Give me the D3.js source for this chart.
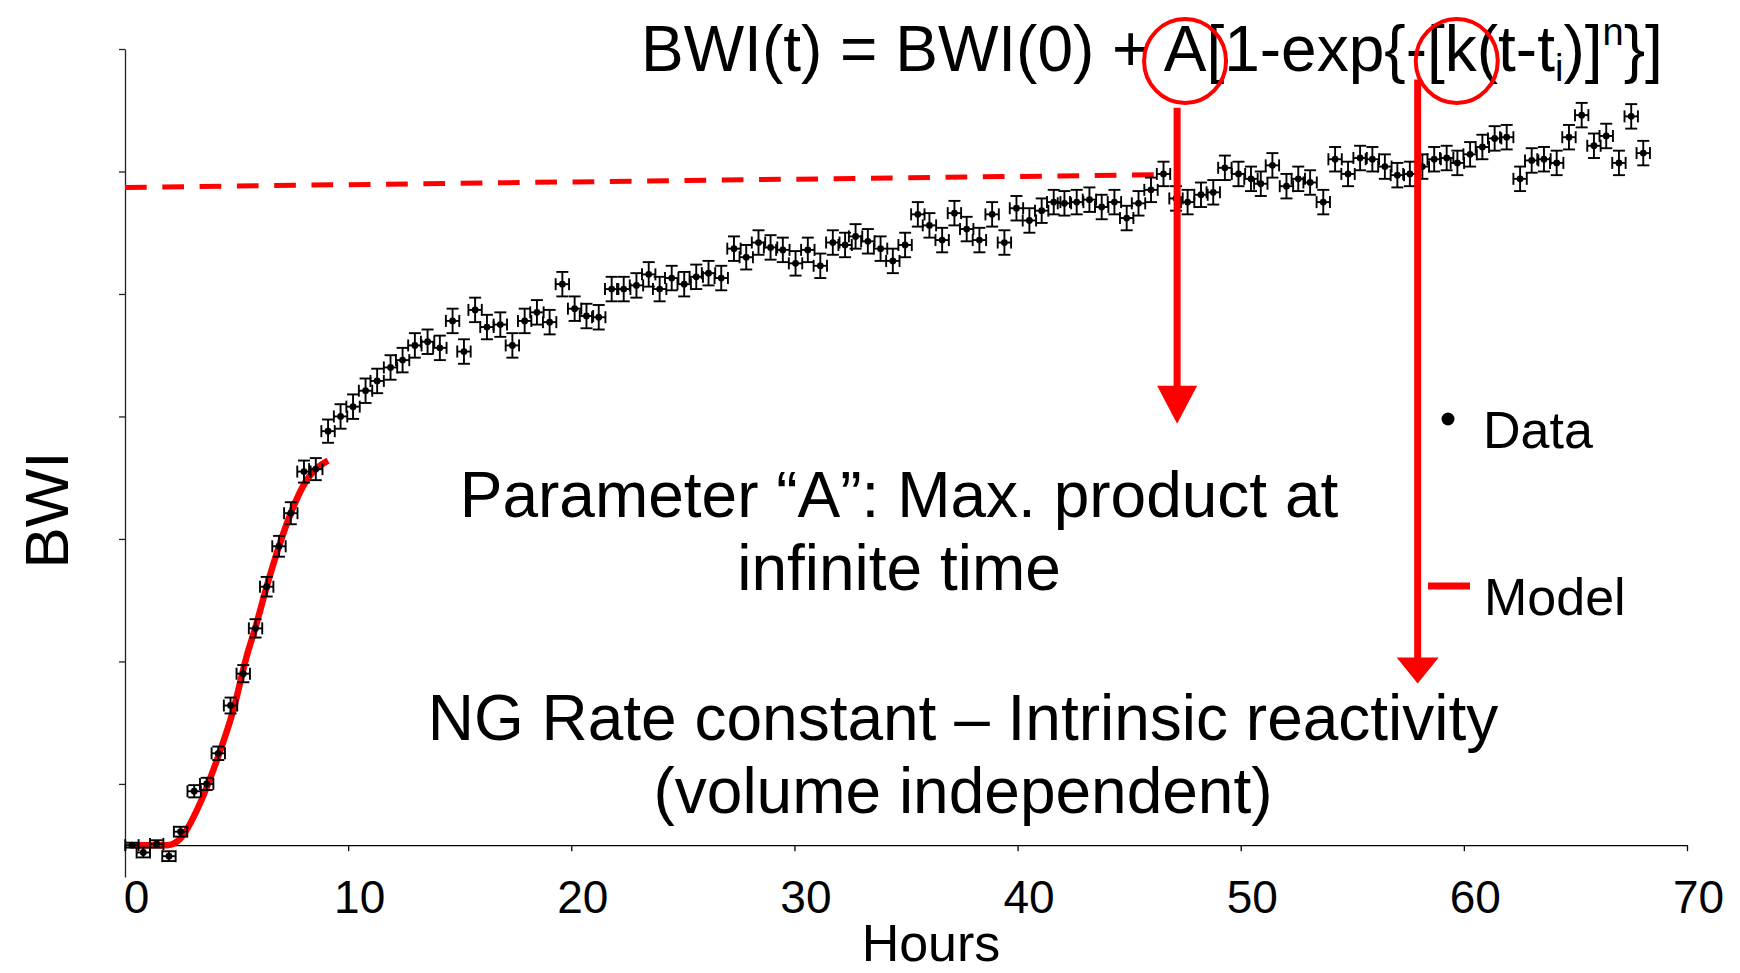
<!DOCTYPE html>
<html>
<head>
<meta charset="utf-8">
<script src="https://cdn.jsdelivr.net/npm/d3@7"></script>
<style>
  body { margin: 0; background: #fff; }
  svg { display: block; font-family: "Liberation Sans", Arial, sans-serif; }
  text { white-space: pre; }
</style>
</head>
<body>
<svg id="chart"></svg>
<script>
// data (BWI in arbitrary units, x axis crosses at 0)
var hours = [
  0.31, 0.82, 1.42, 1.97, 2.49, 3.10, 3.66, 4.18, 4.73, 5.30,
  5.85, 6.35, 6.90, 7.43, 8.02, 8.55, 9.10, 9.66, 10.22, 10.78,
  11.30, 11.90, 12.44, 12.99, 13.56, 14.11, 14.68, 15.19, 15.69, 16.22,
  16.82, 17.36, 17.91, 18.46, 19.03, 19.60, 20.15, 20.68, 21.23, 21.81,
  22.35, 22.92, 23.47, 23.96, 24.50, 25.06, 25.60, 26.15, 26.72, 27.29,
  27.84, 28.39, 28.93, 29.48, 30.05, 30.60, 31.16, 31.72, 32.27, 32.74,
  33.29, 33.86, 34.41, 34.96, 35.53, 36.05, 36.62, 37.17, 37.72, 38.29,
  38.86, 39.41, 39.95, 40.53, 41.08, 41.62, 42.10, 42.65, 43.22, 43.77,
  44.34, 44.89, 45.42, 45.98, 46.54, 47.10, 47.62, 48.22, 48.77, 49.29,
  49.90, 50.46, 50.90, 51.42, 52.05, 52.58, 53.11, 53.70, 54.23, 54.81,
  55.35, 55.90, 56.46, 57.02, 57.58, 58.14, 58.67, 59.23, 59.71, 60.28,
  60.83, 61.38, 61.92, 62.52, 63.04, 63.59, 64.16, 64.71, 65.28, 65.83,
  66.38, 66.95, 67.50, 68.04
];
var bwi = [
  0.00, -0.06, 0.01, -0.09, 0.11, 0.44, 0.50, 0.75, 1.14, 1.40,
  1.77, 2.11, 2.44, 2.71, 3.05, 3.07, 3.38, 3.50, 3.58, 3.71,
  3.79, 3.90, 3.96, 4.08, 4.11, 4.06, 4.28, 4.03, 4.37, 4.23,
  4.25, 4.08, 4.28, 4.35, 4.27, 4.58, 4.38, 4.32, 4.31, 4.54,
  4.54, 4.57, 4.66, 4.54, 4.63, 4.58, 4.64, 4.67, 4.63, 4.87,
  4.80, 4.92, 4.88, 4.86, 4.75, 4.86, 4.73, 4.92, 4.90, 4.97,
  4.93, 4.87, 4.77, 4.90, 5.15, 5.06, 4.94, 5.16, 5.03, 4.94,
  5.15, 4.92, 5.20, 5.10, 5.18, 5.25, 5.24, 5.25, 5.27, 5.21,
  5.25, 5.12, 5.24, 5.35, 5.48, 5.28, 5.25, 5.31, 5.33, 5.53,
  5.48, 5.44, 5.40, 5.55, 5.38, 5.44, 5.41, 5.25, 5.60, 5.48,
  5.61, 5.60, 5.54, 5.47, 5.48, 5.54, 5.60, 5.61, 5.57, 5.64,
  5.70, 5.77, 5.78, 5.44, 5.59, 5.60, 5.57, 5.78, 5.96, 5.71,
  5.79, 5.57, 5.95, 5.65
];
var hoursErr = 0.3;
var bwiErrEarly = [0.02, 0.04, 0.03, 0.04, 0.04, 0.05, 0.05, 0.055, 0.065, 0.07, 0.075, 0.08, 0.085, 0.09, 0.09, 0.09, 0.095];
var bwiErrLate = 0.1;

var modelHours = [0.37, 1.87, 2.46, 3.36, 4.11, 4.85, 5.45, 5.85, 6.35, 6.90, 7.43, 8.14, 8.55, 9.10];
var modelBwi   = [0.00, 0.00, 0.05, 0.34, 0.69, 1.10, 1.54, 1.78, 2.11, 2.44, 2.71, 2.98, 3.07, 3.14];

var plateauHours = [0, 46.87];
var plateauBwi = [5.37, 5.475];

// arrows: [hour, top bwi, tip bwi]
var arrowA = [47.15, 6.02, 3.44];
var arrowK = [57.93, 6.25, 1.32];

var xTicks = [0, 10, 20, 30, 40, 50, 60, 70];
var yTicks = [0.5, 1.5, 2.5, 3.5, 4.5, 5.5, 6.5];

var W = 1740, H = 973;
var RED = '#ff0000';

var svg = d3.select('#chart').attr('width', W).attr('height', H);

var x = d3.scaleLinear().domain([0, 70]).range([125, 1687]);
var y = d3.scaleLinear().domain([-0.26, 6.5]).range([877, 49]);

// axes
var yAxis = svg.append('g').attr('transform', 'translate(125,0)')
  .call(d3.axisLeft(y).tickValues(yTicks).tickFormat('').tickSize(6).tickSizeOuter(0));
yAxis.selectAll('path,line').attr('stroke', '#222').attr('stroke-width', 1.3);

var xAxis = svg.append('g').attr('transform', 'translate(0,' + y(0) + ')')
  .call(d3.axisBottom(x).tickValues(xTicks).tickFormat(d3.format('d')).tickSize(6).tickSizeOuter(0));
xAxis.selectAll('path,line').attr('stroke', '#000').attr('stroke-width', 1.3);
xAxis.selectAll('text')
  .attr('y', 68).attr('dy', 0).attr('dx', 11)
  .attr('fill', '#000')
  .style('font-size', '46px')
  .style('font-family', '"Liberation Sans", Arial, sans-serif');

svg.append('text').attr('x', 931).attr('y', 961).attr('text-anchor', 'middle')
  .style('font-size', '52px').text('Hours');
svg.append('text').attr('transform', 'translate(68,510) rotate(-90)').attr('text-anchor', 'middle')
  .style('font-size', '62px').text('BWI');

// plateau (dashed) + model curve
var plateau = plateauHours.map(function (h, i) { return [h, plateauBwi[i]]; });
svg.append('path').datum(plateau)
  .attr('d', d3.line().x(function (d) { return x(d[0]); }).y(function (d) { return y(d[1]); }))
  .attr('fill', 'none').attr('stroke', RED).attr('stroke-width', 5)
  .attr('stroke-dasharray', '21.7,15.6');

var model = modelHours.map(function (h, i) { return [h, modelBwi[i]]; });
svg.append('path').datum(model)
  .attr('d', d3.line().curve(d3.curveMonotoneX)
    .x(function (d) { return x(d[0]); }).y(function (d) { return y(d[1]); }))
  .attr('fill', 'none').attr('stroke', RED).attr('stroke-width', 6.5)
  .attr('stroke-linecap', 'butt').attr('stroke-linejoin', 'round');

// data with error bars
var pts = hours.map(function (h, i) {
  return { t: h, v: bwi[i], e: i < bwiErrEarly.length ? bwiErrEarly[i] : bwiErrLate };
});
var cap = 6;
var g = svg.append('g').attr('stroke', '#000').attr('stroke-width', 1.9);
var p = g.selectAll('g.pt').data(pts).enter().append('g').attr('class', 'pt');
// vertical bar
p.append('line')
  .attr('x1', function (d) { return x(d.t); }).attr('x2', function (d) { return x(d.t); })
  .attr('y1', function (d) { return y(d.v - d.e); }).attr('y2', function (d) { return y(d.v + d.e); });
p.append('line')
  .attr('x1', function (d) { return x(d.t) - cap; }).attr('x2', function (d) { return x(d.t) + cap; })
  .attr('y1', function (d) { return y(d.v + d.e); }).attr('y2', function (d) { return y(d.v + d.e); });
p.append('line')
  .attr('x1', function (d) { return x(d.t) - cap; }).attr('x2', function (d) { return x(d.t) + cap; })
  .attr('y1', function (d) { return y(d.v - d.e); }).attr('y2', function (d) { return y(d.v - d.e); });
// horizontal bar
p.append('line')
  .attr('x1', function (d) { return x(d.t - hoursErr); }).attr('x2', function (d) { return x(d.t + hoursErr); })
  .attr('y1', function (d) { return y(d.v); }).attr('y2', function (d) { return y(d.v); });
p.append('line')
  .attr('x1', function (d) { return x(d.t - hoursErr); }).attr('x2', function (d) { return x(d.t - hoursErr); })
  .attr('y1', function (d) { return y(d.v) - cap; }).attr('y2', function (d) { return y(d.v) + cap; });
p.append('line')
  .attr('x1', function (d) { return x(d.t + hoursErr); }).attr('x2', function (d) { return x(d.t + hoursErr); })
  .attr('y1', function (d) { return y(d.v) - cap; }).attr('y2', function (d) { return y(d.v) + cap; });
p.append('circle')
  .attr('cx', function (d) { return x(d.t); }).attr('cy', function (d) { return y(d.v); })
  .attr('r', 3.4).attr('fill', '#000').attr('stroke', 'none');

// arrows
function drawArrow(a, headW, headH) {
  var ax = x(a[0]), top = y(a[1]), tip = y(a[2]);
  svg.append('line').attr('x1', ax).attr('x2', ax).attr('y1', top).attr('y2', tip - headH + 1)
    .attr('stroke', RED).attr('stroke-width', 7);
  svg.append('path')
    .attr('d', 'M' + (ax - headW / 2) + ',' + (tip - headH) + 'L' + (ax + headW / 2) + ',' + (tip - headH) + 'L' + ax + ',' + tip + 'Z')
    .attr('fill', RED);
}
drawArrow(arrowA, 40, 38);
drawArrow(arrowK, 42, 26);

// formula
var formula = svg.append('text').attr('x', 641).attr('y', 71).style('font-size', '64px');
formula.append('tspan').text('BWI(t) = BWI(0) + ');
formula.append('tspan').text('A');
formula.append('tspan').text('[1-exp{-[');
formula.append('tspan').text('k');
formula.append('tspan').text('(t-t');
formula.append('tspan').attr('dy', 10).style('font-size', '38px').text('i');
formula.append('tspan').attr('dy', -10).text(')]');
formula.append('tspan').attr('dy', -26).style('font-size', '38px').text('n');
formula.append('tspan').attr('dy', 26).text('}]');

function ringChar(idx, dx) {
  var n = formula.node();
  var s = n.getStartPositionOfChar(idx).x, e = n.getEndPositionOfChar(idx).x;
  svg.append('ellipse').attr('cx', (s + e) / 2 + dx).attr('cy', 61).attr('rx', 41).attr('ry', 42)
    .attr('fill', 'none').attr('stroke', RED).attr('stroke-width', 4);
}
ringChar(18, 0);
ringChar(28, -4);

// annotations
function lines(cx, base, arr) {
  arr.forEach(function (s, i) {
    svg.append('text').attr('x', cx).attr('y', base + i * 73).attr('text-anchor', 'middle')
      .style('font-size', '64px').text(s);
  });
}
lines(899, 517, ['Parameter \u201cA\u201d: Max. product at', 'infinite time']);
lines(963, 740, ['NG Rate constant \u2013 Intrinsic reactivity', '(volume independent)']);

// legend
svg.append('circle').attr('cx', 1448).attr('cy', 419).attr('r', 6.5).attr('fill', '#000');
svg.append('text').attr('x', 1483).attr('y', 448).style('font-size', '52px').text('Data');
svg.append('line').attr('x1', 1428).attr('x2', 1470).attr('y1', 586).attr('y2', 586)
  .attr('stroke', RED).attr('stroke-width', 7);
svg.append('text').attr('x', 1484).attr('y', 615).style('font-size', '52px').text('Model');
</script>
</body>
</html>
